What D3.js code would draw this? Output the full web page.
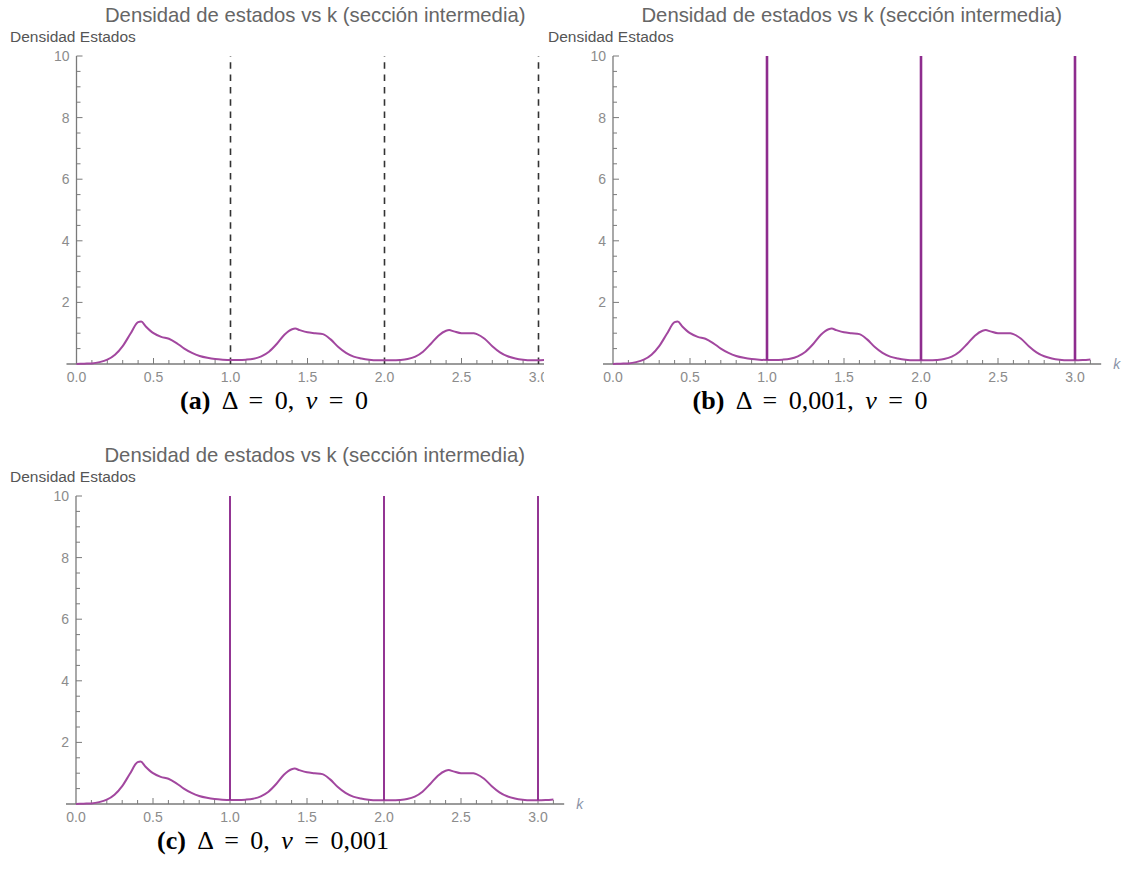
<!DOCTYPE html>
<html><head><meta charset="utf-8">
<script src="https://cdn.jsdelivr.net/npm/d3@7"></script>
<style>
html,body{margin:0;padding:0;background:#fff;}
svg{display:block;}
</style></head>
<body>
<svg id="chart" width="1126" height="884"></svg>
<script>
// ---- data ----
const kValues = [0.00,0.05,0.10,0.15,0.20,0.25,0.30,0.35,0.40,0.42,0.45,0.50,0.55,0.60,0.65,0.70,0.75,0.80,0.85,0.90,0.95,1.00,
  1.05,1.10,1.15,1.20,1.25,1.30,1.35,1.40,1.42,1.45,1.50,1.55,1.60,1.65,1.70,1.75,1.80,1.85,1.90,1.95,2.00,
  2.05,2.10,2.15,2.20,2.25,2.30,2.35,2.40,2.42,2.45,2.50,2.55,2.58,2.60,2.65,2.70,2.75,2.80,2.85,2.90,2.95,3.00,3.05,3.10];
const densityValues = [0.00,0.01,0.02,0.06,0.14,0.30,0.58,0.98,1.36,1.38,1.22,1.00,0.88,0.82,0.68,0.50,0.36,0.26,0.20,0.16,0.14,0.13,
  0.13,0.14,0.17,0.25,0.40,0.65,0.95,1.13,1.15,1.10,1.03,1.00,0.97,0.80,0.55,0.36,0.24,0.18,0.14,0.12,0.12,
  0.12,0.13,0.16,0.24,0.40,0.65,0.92,1.08,1.10,1.06,1.00,1.00,1.00,0.97,0.82,0.58,0.38,0.25,0.18,0.14,0.12,0.12,0.13,0.15];
const singularK = [1, 2, 3];
const spikeTop = [10, 10, 10];
const yTickLabels = [2, 4, 6, 8, 10];
const xTickLabels = [0.0, 0.5, 1.0, 1.5, 2.0, 2.5, 3.0];
const plotTitle = "Densidad de estados vs k (sección intermedia)";
const yAxisLabel = "Densidad Estados";
const xAxisLabel = "k";
const captions = [
  {tag:"(a)", parts:["Δ = 0, ", "ν", " = 0"]},
  {tag:"(b)", parts:["Δ = 0,001, ", "ν", " = 0"]},
  {tag:"(c)", parts:["Δ = 0, ", "ν", " = 0,001"]}
];

// ---- layout ----
const panels = [
  {x0:76.5, unit:154, yTop:56, yBase:364, clipRight:544, mode:"dashed", titleY:22, labelX:10, labelY:42, capX:274, capY:409},
  {x0:613, unit:154, yTop:56, yBase:364, clipRight:null, mode:"spike", spikeW:2.6, titleY:22, labelX:548, labelY:42, capX:810, capY:409},
  {x0:76, unit:154, yTop:496, yBase:804, clipRight:null, mode:"spike", spikeW:1.9, titleY:462, labelX:10, labelY:482, capX:273, capY:849}
];

const svg = d3.select("#chart");
const axisColor = "#7a7a7a";
const tickColor = "#8c8c8c";
const curveColor = "#a2479f";
const spikeColor = "#8e2c8e";
const sans = "'Liberation Sans', Arial, sans-serif";
const serif = "'Liberation Serif', 'DejaVu Serif', serif";

panels.forEach((p, i) => {
  const x = d3.scaleLinear().domain([0, 3]).range([p.x0, p.x0 + 3 * p.unit]);
  const y = d3.scaleLinear().domain([0, 10]).range([p.yBase, p.yTop]);

  let g = svg.append("g");
  if (p.clipRight) {
    const cid = "clip" + i;
    svg.append("defs").append("clipPath").attr("id", cid)
      .append("rect").attr("x", 0).attr("y", 0).attr("width", p.clipRight).attr("height", 884);
    g.attr("clip-path", `url(#${cid})`);
  }

  // title
  svg.append("text").attr("x", x(1.55)).attr("y", p.titleY)
    .attr("text-anchor", "middle").attr("font-family", sans).attr("font-size", 20.3)
    .attr("fill", "#666").text(plotTitle);
  // y label
  svg.append("text").attr("x", p.labelX).attr("y", p.labelY)
    .attr("font-family", sans).attr("font-size", 15.5).attr("fill", "#555").text(yAxisLabel);

  // x axis line
  g.append("line").attr("x1", x(-0.065)).attr("x2", x(3.17))
    .attr("y1", y(0)).attr("y2", y(0)).attr("stroke", axisColor).attr("stroke-width", 1.3);
  // y axis line
  g.append("line").attr("x1", x(0)).attr("x2", x(0))
    .attr("y1", y(0)).attr("y2", y(10)).attr("stroke", axisColor).attr("stroke-width", 1.3);

  // x ticks
  const xMinor = d3.range(1, 32).map(d => d / 10);
  xMinor.forEach(v => {
    const major = Math.abs(v * 2 - Math.round(v * 2)) < 1e-6;
    g.append("line").attr("x1", x(v)).attr("x2", x(v))
      .attr("y1", y(0)).attr("y2", y(0) - (major ? 6 : 4))
      .attr("stroke", axisColor).attr("stroke-width", 1);
  });
  xTickLabels.forEach(v => {
    g.append("text").attr("x", x(v)).attr("y", y(0) + 18)
      .attr("text-anchor", "middle").attr("font-family", sans).attr("font-size", 14)
      .attr("fill", tickColor).text(d3.format(".1f")(v));
  });
  // y ticks
  d3.range(1, 21).map(d => d / 2).forEach(v => {
    const major = Math.abs(v / 2 - Math.round(v / 2)) < 1e-6;
    g.append("line").attr("x1", x(0)).attr("x2", x(0) + (major ? 6 : 4))
      .attr("y1", y(v)).attr("y2", y(v)).attr("stroke", axisColor).attr("stroke-width", 1);
  });
  yTickLabels.forEach(v => {
    g.append("text").attr("x", x(0) - 7).attr("y", y(v) + 5)
      .attr("text-anchor", "end").attr("font-family", sans).attr("font-size", 14)
      .attr("fill", tickColor).text(v);
  });
  if (!p.clipRight) {
    g.append("text").attr("x", x(3.17) + 12).attr("y", y(0) + 5)
      .attr("font-family", sans).attr("font-style", "italic").attr("font-size", 14)
      .attr("fill", "#8a93a8").text(xAxisLabel);
  }

  // curve data
  const data = kValues.map((k, j) => ({k, v: densityValues[j]}));
  const line = d3.line().x(d => x(d.k)).y(d => y(d.v)).curve(d3.curveMonotoneX);

  if (p.mode === "dashed") {
    singularK.forEach((k, j) => {
      g.append("line").attr("x1", x(k)).attr("x2", x(k))
        .attr("y1", y(0)).attr("y2", y(spikeTop[j]))
        .attr("stroke", "#333").attr("stroke-width", 1.6).attr("stroke-dasharray", "6.5,5.8");
    });
  }
  g.append("path").datum(data).attr("d", line).attr("fill", "none")
    .attr("stroke", curveColor).attr("stroke-width", 2).attr("stroke-linejoin", "round");
  if (p.mode === "spike") {
    singularK.forEach((k, j) => {
      const base = densityValues[kValues.indexOf(k)];
      g.append("line").attr("x1", x(k)).attr("x2", x(k))
        .attr("y1", y(base)).attr("y2", y(spikeTop[j]))
        .attr("stroke", spikeColor).attr("stroke-width", p.spikeW);
    });
  }

  // caption
  const cap = svg.append("text").attr("x", p.capX).attr("y", p.capY)
    .attr("text-anchor", "middle").attr("font-family", serif).attr("font-size", 26)
    .attr("word-spacing", 5).attr("fill", "#000");
  cap.append("tspan").attr("font-weight", "bold").text(captions[i].tag + " ");
  cap.append("tspan").text(captions[i].parts[0]);
  cap.append("tspan").attr("font-style", "italic").text(captions[i].parts[1]);
  cap.append("tspan").text(captions[i].parts[2]);
});
</script>
</body></html>
